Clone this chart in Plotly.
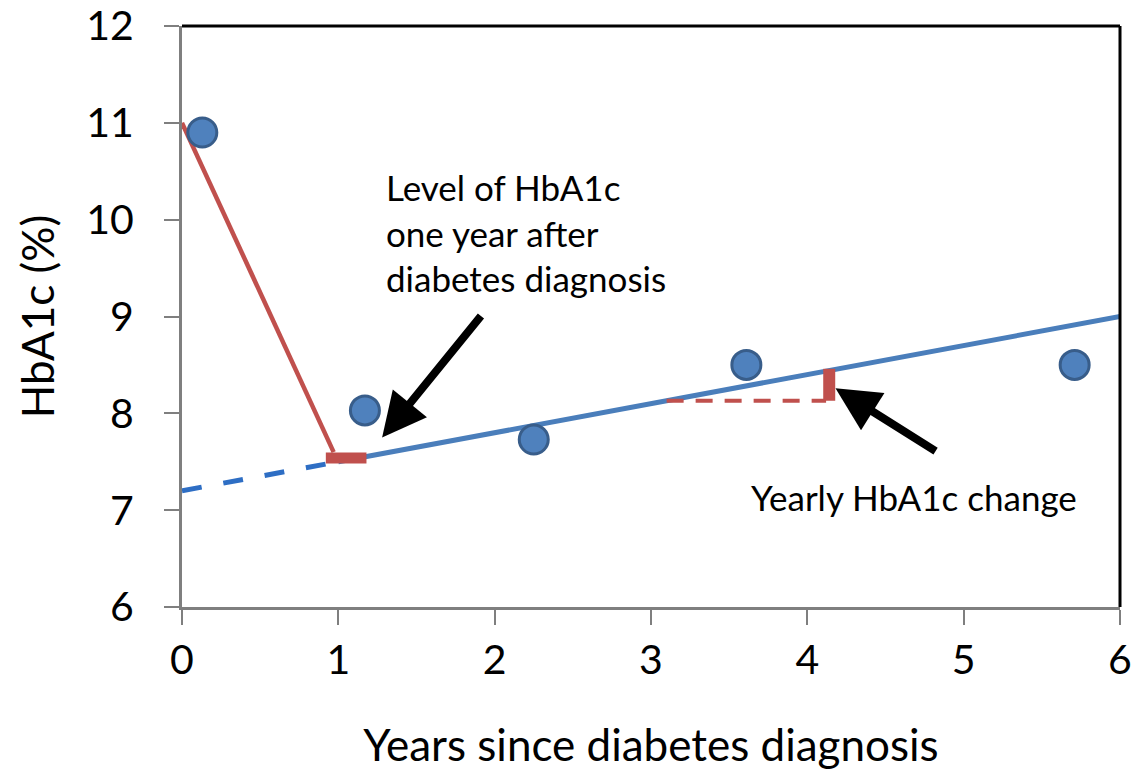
import plotly.graph_objects as go

# Observed data points
years = [0.13, 1.17, 2.25, 3.61, 5.71]
hba1c = [10.9, 8.03, 7.73, 8.50, 8.50]

# Initial drop (red) line
drop_x = [0.0, 0.97]
drop_y = [11.0, 7.6]

# Trend line (blue), solid part and dashed extrapolation
trend_x = [1.0, 6.0]
trend_y = [7.5, 9.0]
extrap_x = [0.0, 0.95]
extrap_y = [7.2, 7.485]

# Level at one year (thick red marker)
level_x = [0.92, 1.18]
level_y = [7.54, 7.54]

# Yearly change indicator
change_dash_x = [3.1, 4.12]
change_dash_y = [8.13, 8.13]
change_bar_x = [4.14, 4.14]
change_bar_y = [8.13, 8.46]

# Arrows: tip and tail
arrow1_tip = (1.28, 7.75)
arrow1_tail = (1.92, 9.02)
arrow2_tip = (4.18, 8.26)
arrow2_tail = (4.83, 7.60)

x_ticks = [0, 1, 2, 3, 4, 5, 6]
y_ticks = [6, 7, 8, 9, 10, 11, 12]

RED = "#C0504D"
BLUE = "#4A7EBB"
BLUE_D = "#2E6EC4"
FONT = "Lato"

fig = go.Figure()

fig.add_trace(go.Scatter(x=extrap_x, y=extrap_y, mode="lines",
                         line=dict(color=BLUE_D, width=5, dash="20px,22px"), hoverinfo="skip"))
fig.add_trace(go.Scatter(x=trend_x, y=trend_y, mode="lines",
                         line=dict(color=BLUE, width=5), hoverinfo="skip"))
fig.add_trace(go.Scatter(x=drop_x, y=drop_y, mode="lines",
                         line=dict(color=RED, width=4.5), hoverinfo="skip"))
fig.add_trace(go.Scatter(x=change_dash_x, y=change_dash_y, mode="lines",
                         line=dict(color=RED, width=4, dash="17px,12px"), hoverinfo="skip"))
fig.add_trace(go.Scatter(x=level_x, y=level_y, mode="lines",
                         line=dict(color=RED, width=11), hoverinfo="skip"))
fig.add_trace(go.Scatter(x=change_bar_x, y=change_bar_y, mode="lines",
                         line=dict(color=RED, width=12), hoverinfo="skip"))
fig.add_trace(go.Scatter(x=years, y=hba1c, mode="markers",
                         marker=dict(size=29, color="#4F81BD",
                                     line=dict(color="#385D8A", width=3))))

for tip, tail in [(arrow1_tip, arrow1_tail), (arrow2_tip, arrow2_tail)]:
    fig.add_annotation(x=tip[0], y=tip[1], ax=tail[0], ay=tail[1],
                       xref="x", yref="y", axref="x", ayref="y",
                       text="", showarrow=True, arrowhead=2, arrowsize=1.1,
                       arrowwidth=8, arrowcolor="black", standoff=0)

fig.add_annotation(x=1.29, y=10.57, xref="x", yref="y", xanchor="left", yanchor="top",
                   text="Level of HbA1c<br>one year after<br>diabetes diagnosis",
                   align="left", showarrow=False,
                   font=dict(family=FONT, size=35, color="black"))
fig.add_annotation(x=3.63, y=7.14, xref="x", yref="y", xanchor="left", yanchor="middle",
                   text="Yearly HbA1c change", align="left", showarrow=False,
                   font=dict(family=FONT, size=35, color="black"))

# top and right black frame
fig.add_shape(type="line", xref="paper", yref="paper", x0=0, x1=1, y0=1, y1=1,
              line=dict(color="black", width=3))
fig.add_shape(type="line", xref="paper", yref="paper", x0=1, x1=1, y0=0, y1=1,
              line=dict(color="black", width=3))

fig.update_layout(
    width=1131, height=762,
    margin=dict(l=174, r=19, t=18, b=163, autoexpand=False),
    paper_bgcolor="white", plot_bgcolor="white",
    showlegend=False,
    font=dict(family=FONT, color="black"),
    xaxis=dict(range=[0, 6], tickvals=x_ticks, showgrid=False, zeroline=False,
               automargin=False, ticklabeloverflow="allow",
               showline=True, linecolor="#7F7F7F", linewidth=3,
               ticks="outside", ticklen=15, tickwidth=2, tickcolor="#7F7F7F",
               tickfont=dict(family=FONT, size=41, color="black"),
               title=dict(text="Years since diabetes diagnosis",
                          font=dict(family=FONT, size=44, color="black"), standoff=54)),
    yaxis=dict(range=[6, 12], tickvals=y_ticks, showgrid=False, zeroline=False,
               automargin=False, ticklabeloverflow="allow", ticklabelstandoff=22,
               showline=True, linecolor="#7F7F7F", linewidth=3,
               ticks="outside", ticklen=15, tickwidth=2, tickcolor="#7F7F7F",
               tickfont=dict(family=FONT, size=41, color="black"),
               title=dict(text="HbA1c (%)",
                          font=dict(family=FONT, size=44, color="black"), standoff=18)),
)

fig.write_html("out.html")
